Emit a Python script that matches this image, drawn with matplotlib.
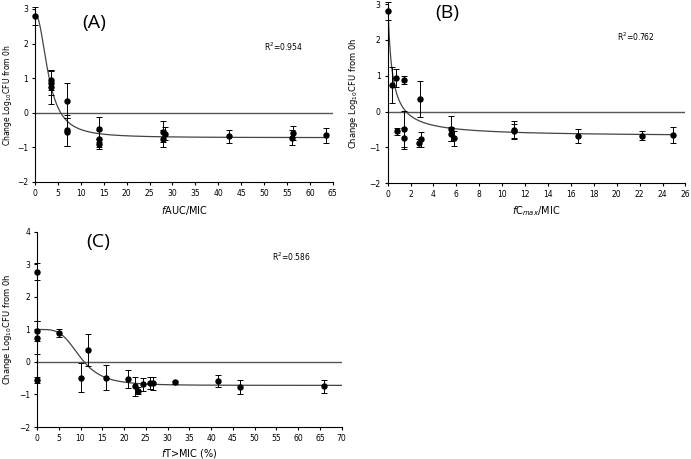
import numpy as np
from matplotlib import pyplot as plt

# panel A: fAUC/MIC
auc_x = [0, 3.5, 3.5, 3.5, 7, 7, 7, 14, 14, 14, 28, 28, 28.3, 42.3, 56, 56.3, 63.5]
auc_y = [2.8, 0.95, 0.75, 0.85, 0.35, -0.5, -0.55, -0.48, -0.75, -0.9, -0.55, -0.75, -0.6, -0.68, -0.72, -0.58, -0.65]
auc_err = [0.25, 0.3, 0.5, 0.35, 0.5, 0.45, 0.4, 0.35, 0.25, 0.15, 0.3, 0.25, 0.2, 0.18, 0.22, 0.2, 0.22]

# panel B: fCmax/MIC
cmax_x = [0.05, 0.4, 0.75, 1.4, 0.8, 1.45, 1.45, 2.8, 2.75, 2.9, 5.5, 5.55, 5.75, 11, 11, 16.6, 22.2, 24.9]
cmax_y = [2.8, 0.75, 0.93, 0.88, -0.55, -0.48, -0.75, 0.35, -0.88, -0.78, -0.48, -0.62, -0.75, -0.52, -0.55, -0.68, -0.67, -0.65]
cmax_err = [0.25, 0.5, 0.25, 0.12, 0.1, 0.5, 0.3, 0.5, 0.1, 0.2, 0.35, 0.2, 0.2, 0.25, 0.2, 0.2, 0.12, 0.22]

# panel C: fT>MIC (%)
tmic_x = [0, 0, 0, 0, 5, 10, 11.7, 15.8, 20.9, 22.6, 23.3, 24.3, 25.9, 26.6, 31.7, 41.6, 46.7, 66]
tmic_y = [2.78, 0.95, 0.75, -0.55, 0.88, -0.48, 0.37, -0.48, -0.52, -0.75, -0.88, -0.68, -0.65, -0.65, -0.63, -0.58, -0.78, -0.75]
tmic_err = [0.25, 0.3, 0.5, 0.1, 0.12, 0.45, 0.5, 0.38, 0.27, 0.3, 0.1, 0.2, 0.18, 0.2, 0.05, 0.18, 0.22, 0.2]

# sigmoid Emax fit parameters: E0, Emin, EC50, hill, x range
fit_auc = (2.85, -0.72, 3.0, 2.2, 0, 64)
fit_cmax = (3.2, -0.7, 0.35, 1.0, 0.05, 25)
fit_tmic = (1.0, -0.72, 10.0, 4.0, 0, 70)


def emax(p):
    e0, emin, ec50, h, x0, x1 = p
    x = np.linspace(x0, x1, 400)
    return x, e0 - (e0 - emin) * x**h / (ec50**h + x**h)


fig = plt.figure(figsize=(6.91, 4.59), dpi=100)
ylab = 'Change Log$_{10}$CFU from 0h'


def panel(rect, xs, ys, es, fit, xmax, xstep, ymax, xlabel, xlpos, ylpos, ylsize,
          tag, tagpos, r2, r2pos):
    ax = fig.add_axes(rect)
    fx, fy = emax(fit)
    ax.plot(fx, fy, color='#444444', lw=0.9, zorder=2)
    ax.axhline(0, color='#555555', lw=1.0, zorder=1)
    ax.errorbar(xs, ys, yerr=es, fmt='o', color='black', ms=3.6, capsize=2.5,
                elinewidth=0.7, capthick=0.7, zorder=3, clip_on=False)
    ax.set_xlim(0, xmax)
    ax.set_ylim(-2, ymax)
    ax.set_xticks(np.arange(0, xmax + 0.1, xstep))
    ax.set_yticks(np.arange(-2, ymax + 0.1, 1))
    ax.spines['top'].set_visible(False)
    ax.spines['right'].set_visible(False)
    ax.tick_params(labelsize=5.5, length=2, width=0.8, pad=3)
    ax.set_xlabel(xlabel, fontsize=7)
    ax.xaxis.set_label_coords(0.5, xlpos)
    ax.set_ylabel(ylab, fontsize=ylsize)
    ax.yaxis.set_label_coords(ylpos, 0.5)
    ax.text(tagpos[0], tagpos[1], tag, transform=ax.transAxes, fontsize=14,
            ha='center', va='center', family='Open Sans')
    ax.text(r2pos[0], r2pos[1], r2, transform=ax.transAxes, fontsize=5.5,
            ha='left', va='center')
    return ax


panel([0.0507, 0.6035, 0.431, 0.377], auc_x, auc_y, auc_err, fit_auc, 65, 5, 3,
      '$f$AUC/MIC', -0.13, -0.072, 5.5, '(A)', (0.2, 0.92), 'R$^2$=0.954', (0.77, 0.78))
panel([0.561, 0.601, 0.431, 0.39], cmax_x, cmax_y, cmax_err, fit_cmax, 26, 2, 3,
      '$f$C$_{max}$/MIC', -0.12, -0.093, 6, '(B)', (0.2, 0.95), 'R$^2$=0.762', (0.77, 0.82))
panel([0.0535, 0.0697, 0.441, 0.425], tmic_x, tmic_y, tmic_err, fit_tmic, 70, 5, 4,
      '$f$T>MIC (%)', -0.1, -0.075, 6, '(C)', (0.2, 0.95), 'R$^2$=0.586', (0.77, 0.87))

fig.savefig('out.png', dpi=100)
